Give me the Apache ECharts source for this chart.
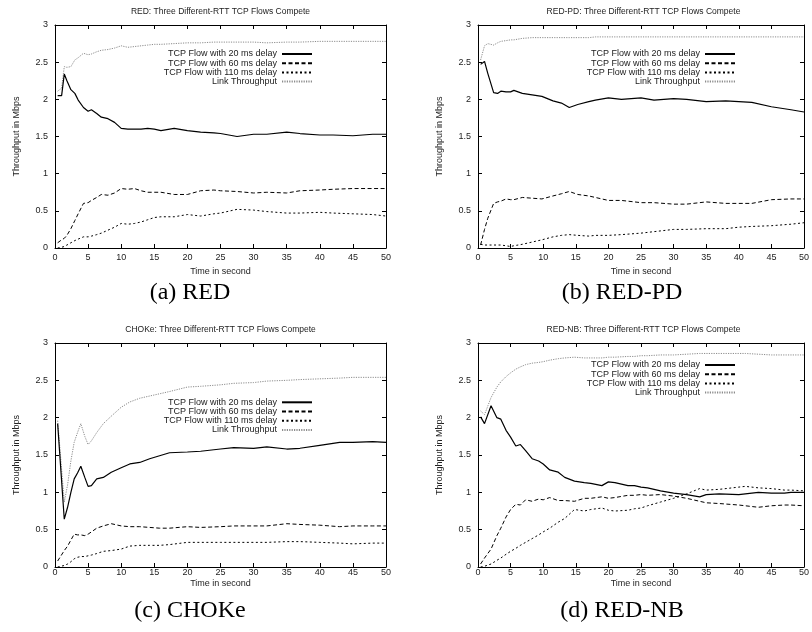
<!DOCTYPE html>
<html>
<head>
<meta charset="utf-8">
<title>Three Different-RTT TCP Flows Compete</title>
<script type="text/javascript" src="https://cdn.jsdelivr.net/npm/echarts@6/dist/echarts.min.js"></script>
<style>
	body { margin: 0; background: #fff; }
	#chart { width: 812px; height: 632px; }
</style>
</head>
<body>
<div id="chart"></div>
<script type="text/javascript">
// 图例名称
var flowNames = ['TCP Flow with 20 ms delay', 'TCP Flow with 60 ms delay', 'TCP Flow with 110 ms delay', 'Link Throughput'];
var panelTitles = ['RED: Three Different-RTT TCP Flows Compete', 'RED-PD: Three Different-RTT TCP Flows Compete',
	'CHOKe: Three Different-RTT TCP Flows Compete', 'RED-NB: Three Different-RTT TCP Flows Compete'];
var captions = ['(a) RED', '(b) RED-PD', '(c) CHOKe', '(d) RED-NB'];
var xTicks = [0, 5, 10, 15, 20, 25, 30, 35, 40, 45, 50];
var yTicks = [0, 0.5, 1, 1.5, 2, 2.5, 3];

// (a) RED
var timeA = [0.4, 1, 1.4, 1.8, 2.4, 3, 3.5, 4.3, 5, 5.5, 6.3, 7, 8, 9, 10, 11, 12, 13, 14, 15, 16, 18, 20, 22, 24, 25, 27.5, 30, 32, 35, 37, 40, 42, 45, 48, 50];
var redFlow20 = [2.05, 2.05, 2.34, 2.25, 2.13, 2.08, 1.99, 1.89, 1.84, 1.86, 1.81, 1.76, 1.74, 1.69, 1.61, 1.60, 1.60, 1.60, 1.61, 1.60, 1.58, 1.61, 1.58, 1.56, 1.55, 1.54, 1.50, 1.53, 1.53, 1.56, 1.54, 1.52, 1.52, 1.51, 1.53, 1.53];
var redFlow60 = [0.07, 0.11, 0.13, 0.17, 0.26, 0.37, 0.46, 0.60, 0.61, 0.64, 0.68, 0.72, 0.71, 0.74, 0.80, 0.79, 0.80, 0.77, 0.75, 0.75, 0.75, 0.72, 0.72, 0.77, 0.78, 0.77, 0.76, 0.74, 0.75, 0.74, 0.77, 0.78, 0.79, 0.80, 0.80, 0.80];
var redFlow110 = [0.00, 0.01, 0.02, 0.04, 0.07, 0.10, 0.12, 0.15, 0.15, 0.16, 0.18, 0.20, 0.24, 0.28, 0.33, 0.32, 0.33, 0.35, 0.38, 0.41, 0.42, 0.42, 0.45, 0.43, 0.46, 0.47, 0.52, 0.51, 0.49, 0.47, 0.47, 0.48, 0.47, 0.46, 0.45, 0.43];
var redLink = [2.11, 2.15, 2.44, 2.43, 2.44, 2.53, 2.56, 2.62, 2.60, 2.61, 2.64, 2.66, 2.67, 2.69, 2.72, 2.70, 2.71, 2.72, 2.73, 2.74, 2.74, 2.75, 2.76, 2.76, 2.77, 2.77, 2.77, 2.77, 2.76, 2.77, 2.77, 2.78, 2.78, 2.78, 2.78, 2.78];

// (b) RED-PD
var timeB = [0.4, 1, 1.5, 2.4, 3, 3.5, 4.3, 5, 5.5, 6.8, 8.3, 9.8, 11.5, 12.8, 14, 15.3, 17, 18, 20, 22, 25, 27, 30, 32, 35, 38, 40, 42, 45, 48, 50];
var pdFlow20 = [2.47, 2.51, 2.35, 2.09, 2.08, 2.11, 2.10, 2.10, 2.12, 2.08, 2.06, 2.04, 1.98, 1.95, 1.89, 1.93, 1.97, 1.99, 2.02, 2.00, 2.02, 1.99, 2.01, 2.00, 1.97, 1.98, 1.97, 1.96, 1.90, 1.86, 1.83];
var pdFlow60 = [0.04, 0.25, 0.40, 0.60, 0.62, 0.63, 0.66, 0.65, 0.65, 0.68, 0.67, 0.66, 0.70, 0.73, 0.76, 0.72, 0.70, 0.68, 0.64, 0.64, 0.61, 0.61, 0.59, 0.59, 0.62, 0.60, 0.60, 0.60, 0.65, 0.66, 0.66];
var pdFlow110 = [0.05, 0.04, 0.04, 0.04, 0.04, 0.04, 0.03, 0.02, 0.03, 0.05, 0.08, 0.11, 0.15, 0.17, 0.18, 0.17, 0.16, 0.17, 0.17, 0.18, 0.20, 0.22, 0.25, 0.25, 0.26, 0.26, 0.28, 0.29, 0.30, 0.32, 0.34];
var pdLink = [2.53, 2.72, 2.75, 2.73, 2.76, 2.78, 2.79, 2.80, 2.80, 2.82, 2.83, 2.83, 2.83, 2.83, 2.83, 2.83, 2.83, 2.84, 2.84, 2.84, 2.84, 2.84, 2.84, 2.84, 2.84, 2.84, 2.84, 2.84, 2.84, 2.84, 2.84];

// (c) CHOKe
var timeC = [0.4, 1.4, 1.9, 2.4, 2.9, 3.4, 3.9, 4.5, 5, 5.5, 6.3, 7.3, 8.5, 10, 11.3, 12.8, 14.3, 15.8, 17.3, 20, 22, 25, 27, 30, 32, 35, 37, 40, 43, 45, 48, 50];
var chokeFlow20 = [1.92, 0.64, 0.80, 1.00, 1.18, 1.26, 1.35, 1.20, 1.08, 1.09, 1.18, 1.20, 1.27, 1.33, 1.38, 1.40, 1.45, 1.49, 1.53, 1.54, 1.55, 1.58, 1.60, 1.59, 1.61, 1.58, 1.59, 1.63, 1.67, 1.67, 1.68, 1.67];
var chokeFlow60 = [0.08, 0.22, 0.28, 0.36, 0.44, 0.43, 0.43, 0.42, 0.44, 0.47, 0.52, 0.55, 0.58, 0.55, 0.54, 0.54, 0.53, 0.52, 0.52, 0.54, 0.53, 0.54, 0.55, 0.55, 0.55, 0.58, 0.57, 0.56, 0.54, 0.55, 0.55, 0.55];
var chokeFlow110 = [0.00, 0.02, 0.04, 0.07, 0.11, 0.13, 0.14, 0.14, 0.15, 0.16, 0.18, 0.21, 0.22, 0.24, 0.28, 0.29, 0.29, 0.29, 0.30, 0.33, 0.33, 0.33, 0.33, 0.33, 0.33, 0.34, 0.34, 0.33, 0.32, 0.31, 0.32, 0.32];
var chokeLink = [1.96, 0.87, 1.10, 1.42, 1.67, 1.80, 1.92, 1.75, 1.64, 1.69, 1.80, 1.92, 2.02, 2.14, 2.21, 2.26, 2.29, 2.32, 2.35, 2.41, 2.42, 2.44, 2.46, 2.47, 2.49, 2.50, 2.51, 2.52, 2.53, 2.54, 2.54, 2.54];

// (d) RED-NB
var timeD = [0.4, 1, 2, 2.9, 3.5, 4.3, 5, 5.8, 6.5, 7.3, 8.3, 9.3, 10, 11, 12.3, 13.3, 14.8, 16.3, 17.3, 19, 20, 21, 23, 24, 25, 26, 28, 30, 32, 34, 35, 37, 40, 41, 43, 45, 47, 48, 50];
var nbFlow20 = [2.01, 1.92, 2.16, 2.00, 1.98, 1.83, 1.74, 1.62, 1.64, 1.56, 1.45, 1.42, 1.38, 1.30, 1.27, 1.20, 1.15, 1.13, 1.12, 1.09, 1.14, 1.13, 1.09, 1.09, 1.07, 1.06, 1.02, 0.99, 0.97, 0.94, 0.97, 0.98, 0.97, 0.98, 1.00, 0.99, 0.99, 1.00, 1.00];
var nbFlow60 = [0.04, 0.12, 0.24, 0.42, 0.52, 0.67, 0.77, 0.84, 0.83, 0.90, 0.88, 0.91, 0.90, 0.93, 0.89, 0.89, 0.88, 0.92, 0.92, 0.94, 0.92, 0.93, 0.96, 0.96, 0.97, 0.96, 0.97, 0.95, 0.92, 0.88, 0.86, 0.85, 0.83, 0.82, 0.80, 0.82, 0.83, 0.83, 0.82];
var nbFlow110 = [0.00, 0.01, 0.04, 0.09, 0.12, 0.17, 0.21, 0.25, 0.29, 0.33, 0.38, 0.43, 0.47, 0.52, 0.60, 0.65, 0.77, 0.75, 0.77, 0.79, 0.76, 0.75, 0.76, 0.78, 0.79, 0.82, 0.87, 0.92, 0.98, 1.05, 1.03, 1.04, 1.07, 1.08, 1.06, 1.05, 1.03, 1.03, 1.02];
var nbLink = [2.09, 2.04, 2.27, 2.41, 2.48, 2.55, 2.60, 2.65, 2.68, 2.71, 2.73, 2.74, 2.75, 2.77, 2.79, 2.80, 2.81, 2.80, 2.80, 2.80, 2.81, 2.81, 2.82, 2.82, 2.83, 2.83, 2.84, 2.84, 2.85, 2.86, 2.86, 2.86, 2.86, 2.86, 2.85, 2.84, 2.84, 2.84, 2.84];

var panels = [
	{ time: timeA, lines: [redFlow20, redFlow60, redFlow110, redLink] },
	{ time: timeB, lines: [pdFlow20, pdFlow60, pdFlow110, pdLink] },
	{ time: timeC, lines: [chokeFlow20, chokeFlow60, chokeFlow110, chokeLink] },
	{ time: timeD, lines: [nbFlow20, nbFlow60, nbFlow110, nbLink] }
];

// 画布布局
var grids = [
	{ left: 55, top: 25, width: 331, height: 223 },
	{ left: 478, top: 25, width: 331, height: 223 },
	{ left: 55, top: 343, width: 331, height: 224 },
	{ left: 478, top: 343, width: 331, height: 224 }
];
var legendPos = [
	{ right: 499, top: 49.4 },
	{ right: 76, top: 49.4 },
	{ right: 499, top: 397.7 },
	{ right: 76, top: 360.4 }
];
var captionPos = [[190, 293], [622, 293], [190, 611], [622, 611]];
var lineStyles = [
	{ color: '#000', width: 1.2, type: 'solid' },
	{ color: '#000', width: 1, type: [4, 2.5] },
	{ color: '#000', width: 1, type: [2, 2.5] },
	{ color: '#8c8c8c', width: 1, type: [1.2, 1.2] }
];

var font = 'Liberation Sans';
var textColor = '#222';

var option = {
	animation: false,
	backgroundColor: '#fff',
	title: [],
	legend: [],
	grid: grids,
	xAxis: [],
	yAxis: [],
	series: [],
	graphic: []
};

for (var i = 0; i < 4; i++) {
	var g = grids[i];
	var bottomRow = i >= 2;
	option.title.push({
		text: panelTitles[i],
		left: g.left + g.width / 2,
		top: g.top - 18,
		textAlign: 'center',
		padding: 0,
		textStyle: { fontSize: 8.5, fontWeight: 'normal', color: textColor, fontFamily: font }
	});
	option.legend.push({
		data: flowNames,
		orient: 'vertical',
		align: 'right',
		right: legendPos[i].right,
		top: legendPos[i].top,
		padding: 0,
		itemGap: 0,
		itemWidth: 30,
		itemHeight: 9.2,
		selectedMode: false,
		itemStyle: { opacity: 0 },
		textStyle: { fontSize: 9, color: textColor, fontFamily: font, lineHeight: 9.2, padding: [0, 0, 0, 0] }
	});
	// 底部和左侧坐标轴
	option.xAxis.push({
		type: 'value', gridIndex: i, min: 0, max: 50, interval: 5, position: 'bottom',
		name: 'Time in second', nameLocation: 'middle', nameGap: bottomRow ? 12 : 19,
		nameTextStyle: { fontSize: 9, color: textColor, fontFamily: font },
		axisLine: { onZero: false, lineStyle: { color: '#000', width: 1 } },
		axisTick: { inside: true, length: 4, lineStyle: { color: '#000' } },
		axisLabel: { fontSize: 9, color: textColor, fontFamily: font, margin: bottomRow ? 1 : 5,
			formatter: function (v) { return xTicks.indexOf(v) >= 0 ? String(v) : ''; } },
		splitLine: { show: false }
	});
	// 顶部镜像刻度
	option.xAxis.push({
		type: 'value', gridIndex: i, min: 0, max: 50, interval: 5, position: 'top',
		axisLine: { onZero: false, lineStyle: { color: '#000', width: 1 } },
		axisTick: { inside: true, length: 4, lineStyle: { color: '#000' } },
		axisLabel: { show: false },
		splitLine: { show: false }
	});
	option.yAxis.push({
		type: 'value', gridIndex: i, min: 0, max: 3, interval: 0.5, position: 'left',
		name: 'Throughput in Mbps', nameLocation: 'middle', nameGap: 34,
		nameTextStyle: { fontSize: 9, color: textColor, fontFamily: font },
		axisLine: { show: true, onZero: false, lineStyle: { color: '#000', width: 1 } },
		axisTick: { show: true, inside: true, length: 4, lineStyle: { color: '#000' } },
		axisLabel: { fontSize: 9, color: textColor, fontFamily: font, margin: 7,
			formatter: function (v) { return yTicks.indexOf(v) >= 0 ? String(v) : ''; } },
		splitLine: { show: false }
	});
	// 右侧镜像刻度
	option.yAxis.push({
		type: 'value', gridIndex: i, min: 0, max: 3, interval: 0.5, position: 'right',
		axisLine: { show: true, onZero: false, lineStyle: { color: '#000', width: 1 } },
		axisTick: { show: true, inside: true, length: 4, lineStyle: { color: '#000' } },
		axisLabel: { show: false },
		splitLine: { show: false }
	});
	for (var k = 0; k < 4; k++) {
		var pts = [];
		for (var j = 0; j < panels[i].time.length; j++) {
			pts.push([panels[i].time[j], panels[i].lines[k][j]]);
		}
		option.series.push({
			name: flowNames[k],
			type: 'line',
			xAxisIndex: i * 2,
			yAxisIndex: i * 2,
			symbol: 'none',
			z: 10 - k,
			itemStyle: { color: lineStyles[k].color },
			lineStyle: lineStyles[k],
			data: pts
		});
	}
	// 子图标题
	option.graphic.push({
		type: 'text',
		x: captionPos[i][0],
		y: captionPos[i][1],
		style: {
			text: captions[i],
			font: '24px "Liberation Serif"',
			fill: '#000',
			textAlign: 'center',
			textVerticalAlign: 'middle'
		}
	});
}

var myChart = echarts.init(document.getElementById('chart'), null, { renderer: 'canvas' });
myChart.setOption(option);
</script>
</body>
</html>
